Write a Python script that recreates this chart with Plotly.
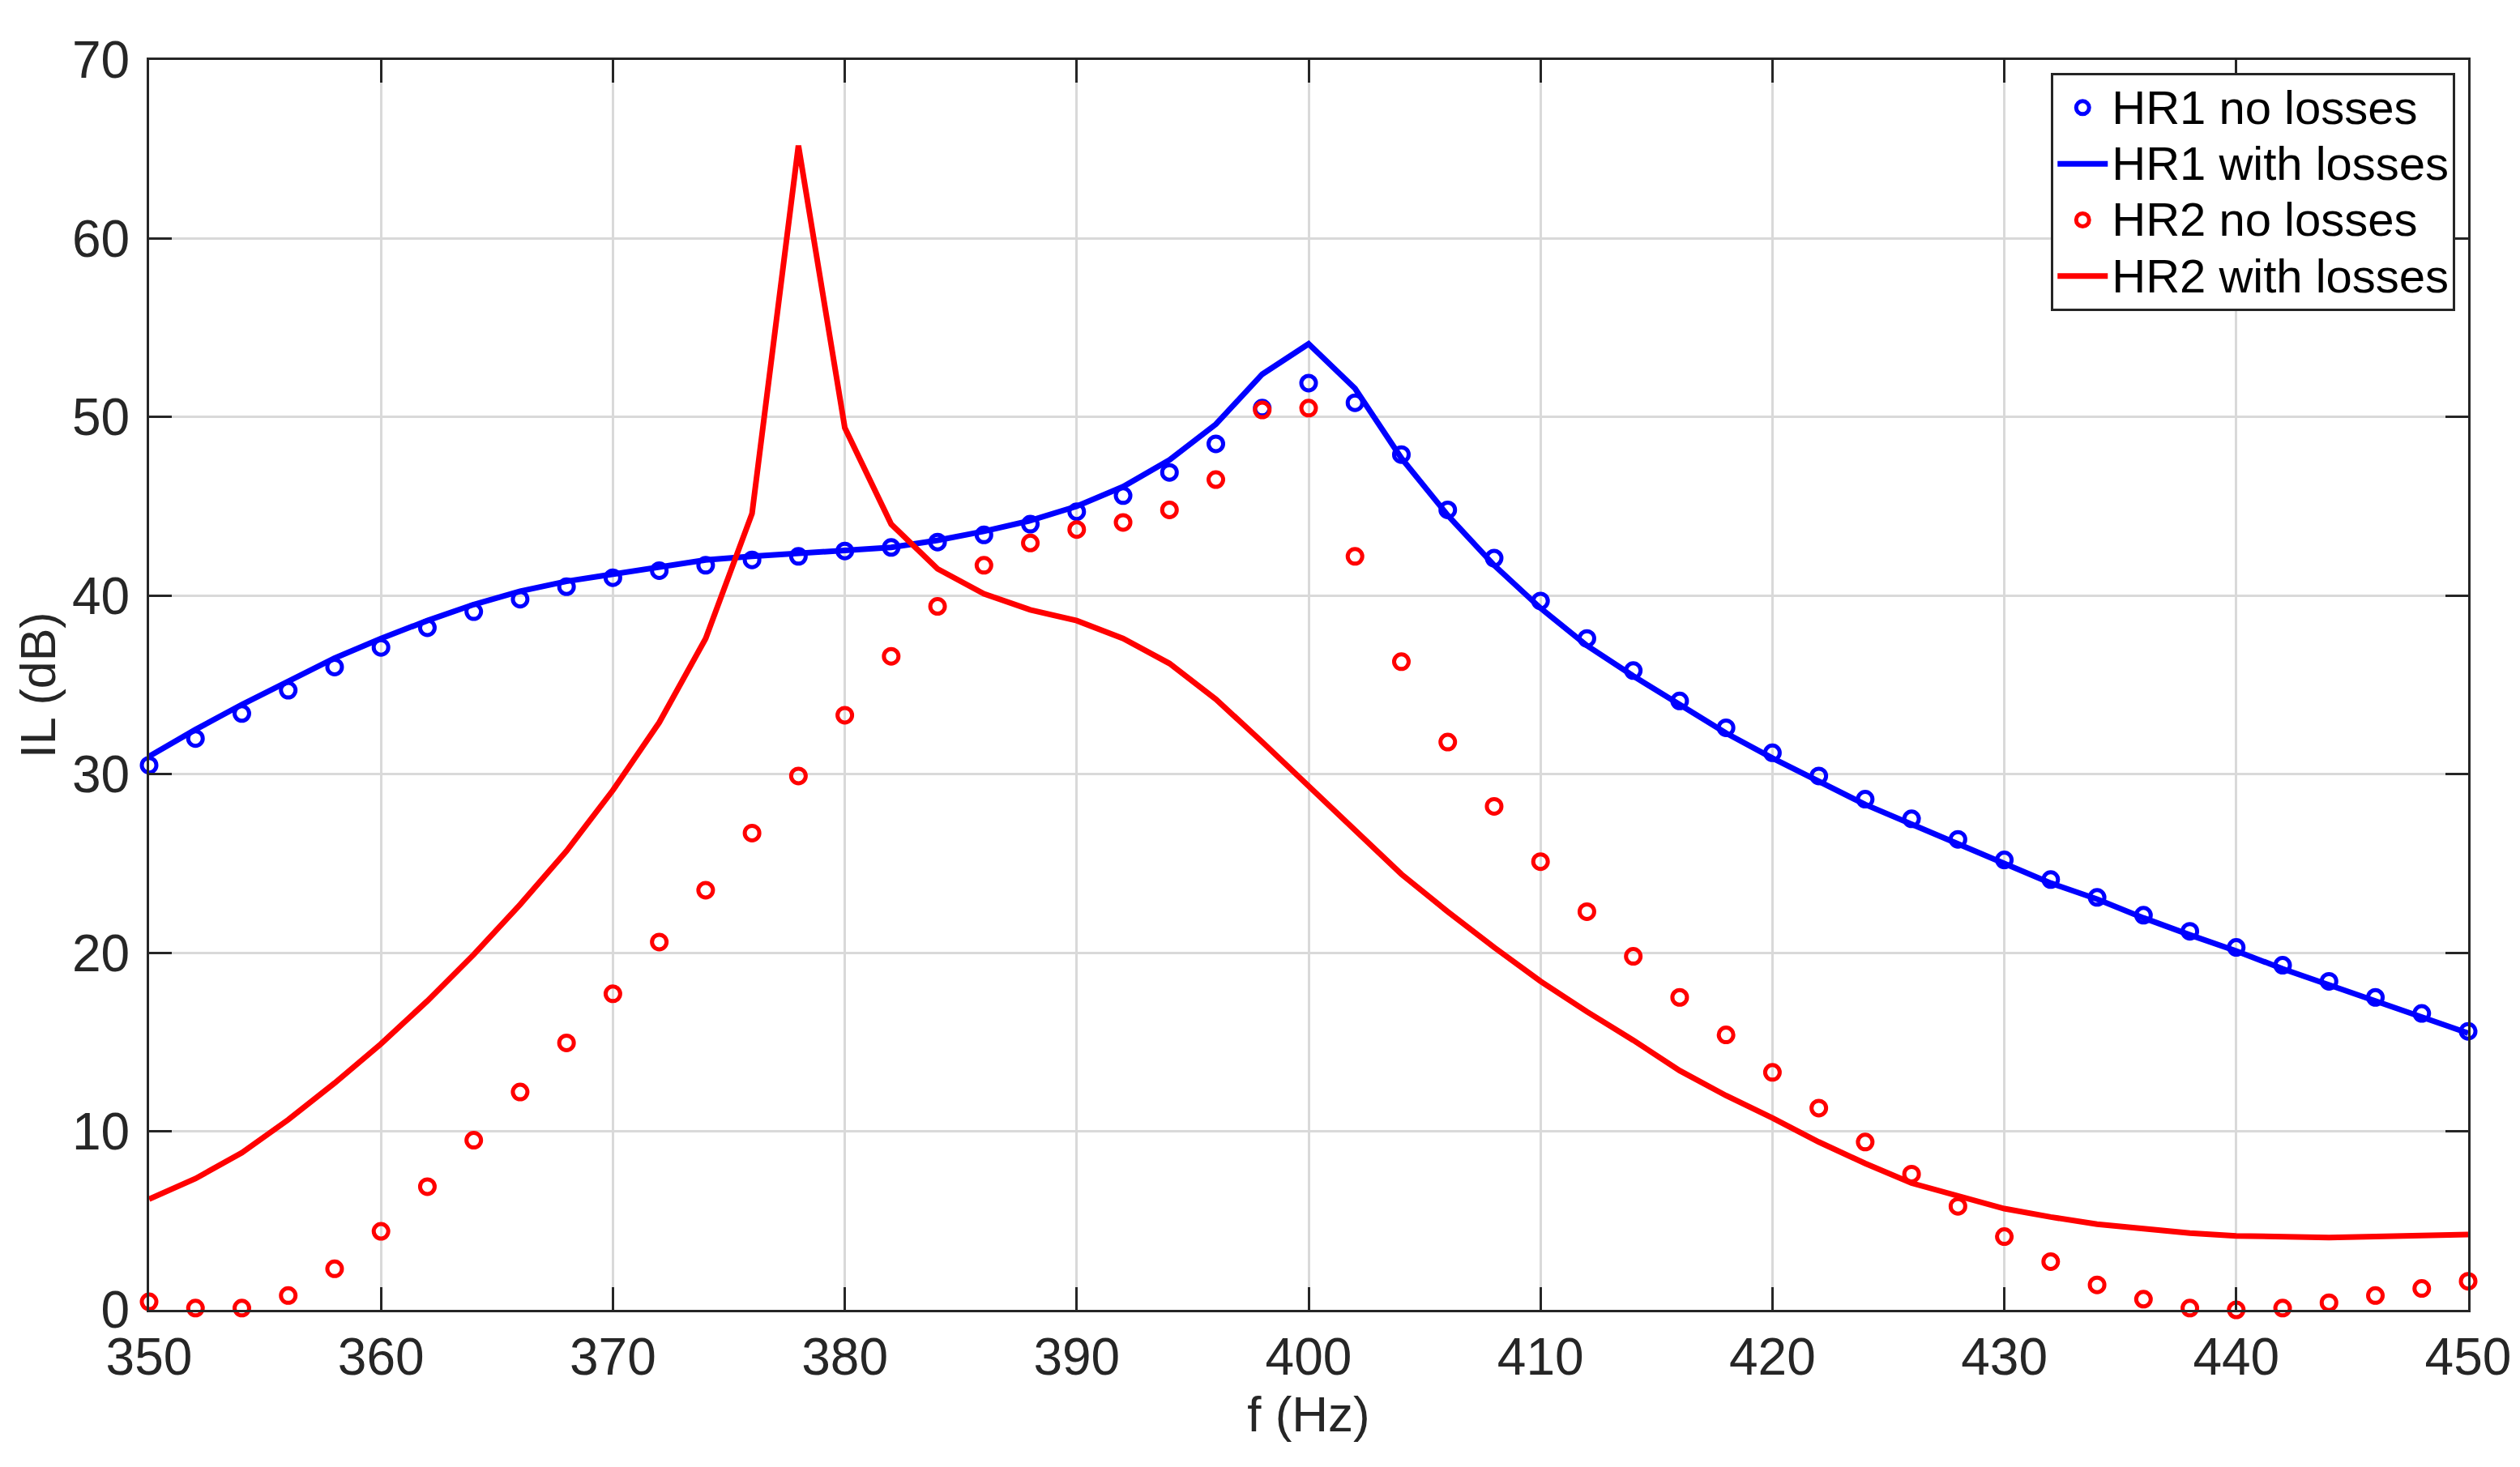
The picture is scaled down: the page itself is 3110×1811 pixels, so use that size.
import plotly.graph_objects as go

# frequency axis (Hz)
freq = [350, 352, 354, 356, 358, 360, 362, 364, 366, 368,
        370, 372, 374, 376, 378, 380, 382, 384, 386, 388,
        390, 392, 394, 396, 398, 400, 402, 404, 406, 408,
        410, 412, 414, 416, 418, 420, 422, 424, 426, 428,
        430, 432, 434, 436, 438, 440, 442, 444, 446, 448, 450]

# insertion loss (dB)
hr1_no_losses = [30.5, 32.0, 33.4, 34.7, 36.0, 37.1, 38.2, 39.1, 39.8, 40.5,
                 41.0, 41.4, 41.7, 42.0, 42.2, 42.5, 42.7, 43.0, 43.4, 44.0,
                 44.7, 45.6, 46.9, 48.5, 50.5, 51.9, 50.8, 47.9, 44.8, 42.1,
                 39.7, 37.6, 35.8, 34.1, 32.6, 31.2, 29.9, 28.6, 27.5, 26.35,
                 25.2, 24.1, 23.1, 22.1, 21.2, 20.3, 19.3, 18.4, 17.5, 16.6, 15.6]

hr1_with_losses = [31.0, 32.5, 33.9, 35.2, 36.5, 37.6, 38.6, 39.5, 40.25, 40.8,
                   41.2, 41.65, 42.0, 42.2, 42.35, 42.5, 42.7, 43.1, 43.6, 44.2,
                   45.0, 46.1, 47.6, 49.6, 52.4, 54.1, 51.6, 47.7, 44.5, 41.7,
                   39.3, 37.2, 35.5, 33.9, 32.3, 30.9, 29.6, 28.3, 27.2, 26.1,
                   25.0, 23.9, 23.0, 21.95, 21.0, 20.1, 19.1, 18.2, 17.3, 16.4, 15.5]

hr2_no_losses = [0.45, 0.1, 0.1, 0.8, 2.3, 4.4, 6.9, 9.5, 12.2, 14.95,
                 17.7, 20.6, 23.5, 26.7, 29.9, 33.3, 36.6, 39.4, 41.7, 42.95,
                 43.7, 44.1, 44.8, 46.5, 50.4, 50.5, 42.2, 36.3, 31.8, 28.2,
                 25.1, 22.3, 19.8, 17.5, 15.4, 13.3, 11.3, 9.4, 7.6, 5.8,
                 4.1, 2.7, 1.4, 0.6, 0.1, 0.0, 0.1, 0.4, 0.8, 1.2, 1.6]

hr2_with_losses = [6.2, 7.35, 8.8, 10.65, 12.7, 14.9, 17.3, 19.9, 22.7, 25.7,
                   29.1, 32.9, 37.6, 44.6, 65.2, 49.4, 44.0, 41.5, 40.1, 39.2,
                   38.6, 37.6, 36.2, 34.2, 31.8, 29.3, 26.8, 24.4, 22.3, 20.3,
                   18.4, 16.7, 15.1, 13.4, 12.0, 10.75, 9.4, 8.2, 7.1, 6.4,
                   5.67, 5.2, 4.8, 4.55, 4.3, 4.14, 4.08, 4.05, 4.1, 4.15, 4.22]

series_names = ["HR1 no losses", "HR1 with losses", "HR2 no losses", "HR2 with losses"]

x_ticks = [350, 360, 370, 380, 390, 400, 410, 420, 430, 440, 450]
y_ticks = [0, 10, 20, 30, 40, 50, 60, 70]

BLUE = "#0000ff"
RED = "#ff0000"
INK = "#262626"
FONT = "Liberation Sans, Arial, Helvetica, sans-serif"


def legend_label(name):
    # bigger glyphs than the legend row height would give, like MATLAB's tight legend
    return f"<span style='font-size:58px'>{name}</span>"


fig = go.Figure()

fig.add_trace(go.Scatter(
    x=freq, y=hr1_no_losses, mode="markers", name=legend_label(series_names[0]),
    marker=dict(symbol="circle-open", size=18, color=BLUE, line=dict(width=5, color=BLUE)),
    cliponaxis=False,
))
fig.add_trace(go.Scatter(
    x=freq, y=hr1_with_losses, mode="lines", name=legend_label(series_names[1]),
    line=dict(color=BLUE, width=7),
))
fig.add_trace(go.Scatter(
    x=freq, y=hr2_no_losses, mode="markers", name=legend_label(series_names[2]),
    marker=dict(symbol="circle-open", size=18, color=RED, line=dict(width=5, color=RED)),
    cliponaxis=False,
))
fig.add_trace(go.Scatter(
    x=freq, y=hr2_with_losses, mode="lines", name=legend_label(series_names[3]),
    line=dict(color=RED, width=7),
))

axis_common = dict(
    showline=True, linecolor=INK, linewidth=3, mirror="ticks",
    ticks="inside", ticklen=28, tickwidth=3, tickcolor=INK,
    showgrid=True, gridcolor="#d9d9d9", gridwidth=2.5,
    zeroline=False,
    tickfont=dict(family=FONT, size=64, color=INK),
)

fig.update_xaxes(
    range=[350, 450], tickvals=x_ticks, ticklabelstandoff=0,
    title=dict(text="f (Hz)", font=dict(family=FONT, size=62, color=INK), standoff=4),
    **axis_common,
)
fig.update_yaxes(
    range=[0, 70], tickvals=y_ticks, ticklabelstandoff=8,
    **axis_common,
)

# y axis title placed by hand, MATLAB puts it close to the tick labels
fig.add_annotation(
    text="IL (dB)", textangle=-90, showarrow=False,
    xref="paper", yref="paper", x=-0.048, y=0.5, xanchor="center", yanchor="middle",
    font=dict(family=FONT, size=61, color=INK),
)

fig.update_layout(
    width=3094, height=1795,
    margin=dict(l=176, r=56, t=66, b=186, autoexpand=False),
    plot_bgcolor="white", paper_bgcolor="white",
    font=dict(family=FONT, color="black"),
    legend=dict(
        x=0.9945, y=0.9895, xanchor="right", yanchor="top",
        bgcolor="white", bordercolor=INK, borderwidth=3,
        font=dict(family=FONT, size=51, color="black"),
        itemwidth=62, tracegroupgap=0,
    ),
)

fig.write_html("out.html")
